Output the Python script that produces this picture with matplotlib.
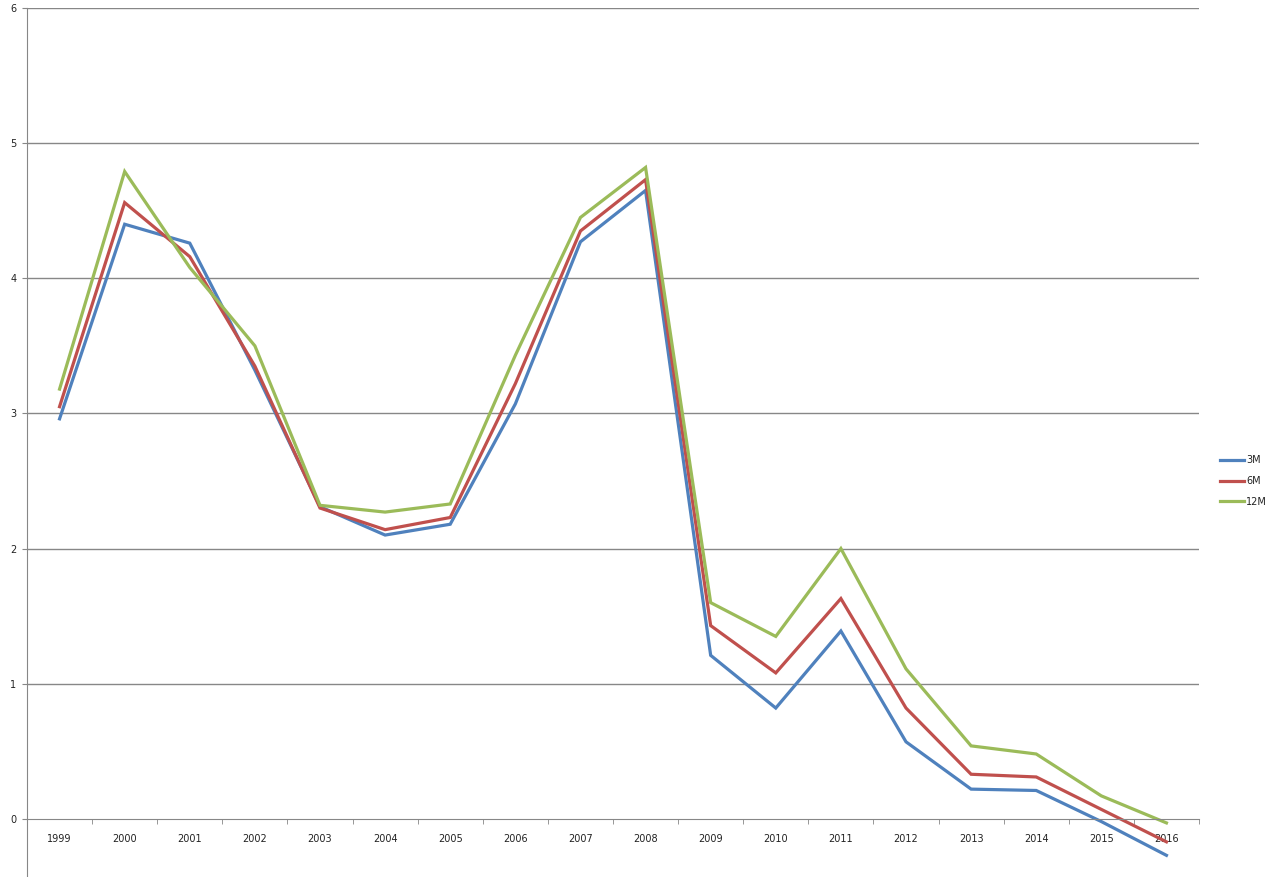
import numpy as np
import matplotlib.pyplot as plt

years = [1999, 2000, 2001, 2002, 2003, 2004, 2005, 2006, 2007, 2008,
         2009, 2010, 2011, 2012, 2013, 2014, 2015, 2016]
m3 = [2.96, 4.40, 4.26, 3.32, 2.31, 2.10, 2.18, 3.07, 4.27, 4.65,
      1.21, 0.82, 1.39, 0.57, 0.22, 0.21, -0.02, -0.27]
m6 = [3.05, 4.56, 4.16, 3.35, 2.30, 2.14, 2.23, 3.22, 4.35, 4.73,
      1.43, 1.08, 1.63, 0.82, 0.33, 0.31, 0.07, -0.17]
m12 = [3.18, 4.79, 4.08, 3.50, 2.32, 2.27, 2.33, 3.43, 4.45, 4.82,
       1.60, 1.35, 2.00, 1.11, 0.54, 0.48, 0.17, -0.03]
series_names = ["3M", "6M", "12M"]
colors = ["#4F81BD", "#C0504D", "#9BBB59"]
grid_c = "#878787"

W, H = 1280, 877
fig = plt.figure(figsize=(W / 100, H / 100), dpi=100)
# plot area: x 27..1199 px, y value 6 at 8 px, value -1 at ~954 px (cropped)
left, right = 27 / W, 1199 / W
top = 1 - 8 / H
bottom = 1 - 954 / H
ax = fig.add_axes([left, bottom, right - left, top - bottom])

x = np.arange(len(years))
for vals, name, c in zip([m3, m6, m12], series_names, colors):
    ax.plot(x, vals, color=c, lw=2.3, label=name, solid_joinstyle="miter")

ax.set_xlim(-0.5, len(years) - 0.5)
ax.set_ylim(-1, 6)

for v in range(1, 7):
    ax.axhline(v, color=grid_c, lw=1.0, zorder=0)

for s in ["top", "right"]:
    ax.spines[s].set_visible(False)
ax.spines["left"].set_color(grid_c)
ax.spines["bottom"].set_color(grid_c)
ax.spines["bottom"].set_position(("data", 0))

ax.set_yticks(range(0, 7))
ax.set_yticklabels([str(v) for v in range(0, 7)])
ax.tick_params(axis="y", length=3.6, color=grid_c, labelsize=7, pad=4,
               labelcolor="#222222")

ax.set_xticks(x)
ax.set_xticklabels([str(y) for y in years])
ax.set_xticks(np.arange(-0.5, len(years), 1.0), minor=True)
ax.tick_params(axis="x", which="major", length=0, labelsize=7, pad=11,
               labelcolor="#222222")
ax.tick_params(axis="x", which="minor", length=3.6, color=grid_c, direction="out")

ax.legend(loc="center left", bbox_to_anchor=(1211 / W, 1 - 481 / H),
          bbox_transform=fig.transFigure, frameon=False, fontsize=7,
          handlelength=2.5, handletextpad=0.2, labelspacing=1.1,
          labelcolor="#222222")

fig.savefig("out.png", dpi=100)
